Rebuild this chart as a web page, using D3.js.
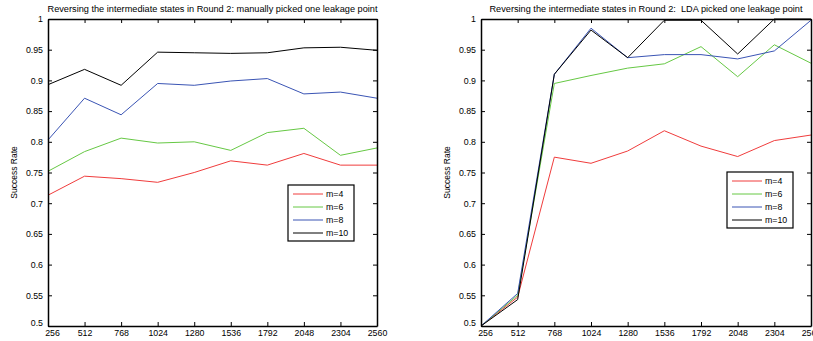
<!DOCTYPE html>
<html>
<head>
<meta charset="utf-8">
<script src="https://cdn.jsdelivr.net/npm/d3@7"></script>
<style>
  body { margin: 0; background: #fff; }
  svg { font-family: "Liberation Sans", Arial, sans-serif; }
  .axis path, .axis line { stroke: #000; }
</style>
</head>
<body>
<svg id="chart" width="813" height="341"></svg>
<script>
// sample sizes on x
const samples = [256, 512, 768, 1024, 1280, 1536, 1792, 2048, 2304, 2560]
const yTicks = [0.5, 0.55, 0.6, 0.65, 0.7, 0.75, 0.8, 0.85, 0.9, 0.95, 1]
const seriesNames = ['m=4', 'm=6', 'm=8', 'm=10']
const seriesColors = ['#f03c3c', '#66c844', '#3a54b4', '#000000']

// left: manually picked leakage point
const manualM4  = [0.713, 0.744, 0.740, 0.734, 0.750, 0.769, 0.762, 0.781, 0.762, 0.762]
const manualM6  = [0.752, 0.784, 0.806, 0.798, 0.800, 0.786, 0.815, 0.822, 0.778, 0.790]
const manualM8  = [0.803, 0.871, 0.844, 0.895, 0.892, 0.899, 0.903, 0.878, 0.881, 0.871]
const manualM10 = [0.893, 0.918, 0.892, 0.946, 0.945, 0.944, 0.945, 0.953, 0.954, 0.949]

// right: LDA picked leakage point
const ldaM4  = [0.500, 0.547, 0.775, 0.765, 0.785, 0.818, 0.793, 0.776, 0.802, 0.811]
const ldaM6  = [0.500, 0.550, 0.895, 0.908, 0.920, 0.927, 0.955, 0.906, 0.958, 0.928]
const ldaM8  = [0.500, 0.553, 0.910, 0.985, 0.937, 0.942, 0.942, 0.935, 0.948, 0.998]
const ldaM10 = [0.500, 0.543, 0.910, 0.982, 0.937, 0.998, 0.998, 0.943, 1.000, 1.000]

const svg = d3.select('#chart')

function drawPanel(opts) {
    const {left, right, top, bottom, title, series, legend, ylabX} = opts
    const x = d3.scaleLinear().domain([256, 2560]).range([left, right])
    const y = d3.scaleLinear().domain([0.5, 1]).range([bottom, top])
    const g = svg.append('g')

    g.append('text')
        .attr('x', (left + right) / 2).attr('y', 12)
        .attr('text-anchor', 'middle').attr('font-size', 9.2)
        .attr('xml:space', 'preserve')
        .text(title)

    // lines
    const line = d3.line().x((d, i) => x(samples[i])).y(d => y(d))
    series.forEach((s, i) => {
        g.append('path').datum(s)
            .attr('fill', 'none')
            .attr('stroke', seriesColors[i])
            .attr('stroke-width', 1)
            .attr('d', line)
    })

    // axes, matlab style ticks inside on all sides
    const xb = g.append('g').attr('class', 'axis')
        .attr('transform', 'translate(0,' + bottom + ')')
        .call(d3.axisBottom(x).tickValues(samples).tickSizeInner(-4).tickSizeOuter(0).tickPadding(4).tickFormat(d3.format('d')))
    xb.selectAll('text').attr('font-size', 8.8).attr('fill', '#000').attr('font-family', null)
    xb.select('text').attr('dx', 4)
    g.append('g').attr('class', 'axis')
        .attr('transform', 'translate(0,' + top + ')')
        .call(d3.axisTop(x).tickValues(samples).tickSizeInner(-4).tickSizeOuter(0).tickFormat(''))

    const yl = g.append('g').attr('class', 'axis')
        .attr('transform', 'translate(' + left + ',0)')
        .call(d3.axisLeft(y).tickValues(yTicks).tickSizeInner(-4).tickSizeOuter(0).tickPadding(5).tickFormat(d => d3.format('')(+d.toFixed(2))))
    yl.selectAll('text').attr('font-size', 8.8).attr('fill', '#000').attr('font-family', null)
    yl.select('text').attr('dy', '-0.05em')
    g.append('g').attr('class', 'axis')
        .attr('transform', 'translate(' + right + ',0)')
        .call(d3.axisRight(y).tickValues(yTicks).tickSizeInner(-4).tickSizeOuter(0).tickFormat(''))

    g.selectAll('.axis path').attr('stroke-width', 1.5)
    g.selectAll('.axis line').attr('stroke-width', 1)

    g.append('text')
        .attr('transform', 'translate(' + ylabX + ',' + ((top + bottom) / 2) + ') rotate(-90)')
        .attr('text-anchor', 'middle').attr('font-size', 8.5)
        .text('Success Rate')

    // legend
    const lg = g.append('g').attr('transform', 'translate(' + legend.x + ',' + legend.y + ')')
    lg.append('rect').attr('width', 66).attr('height', 56)
        .attr('fill', '#fff').attr('stroke', '#000').attr('stroke-width', 1.2)
    seriesNames.forEach((n, i) => {
        const yy = 9 + i * 13
        lg.append('line').attr('x1', 5).attr('x2', 35).attr('y1', yy).attr('y2', yy)
            .attr('stroke', seriesColors[i]).attr('stroke-width', 1)
        lg.append('text').attr('x', 38).attr('y', yy + 3)
            .attr('font-size', 8.8).text(n)
    })
}

drawPanel({
    left: 48, right: 377, top: 19, bottom: 326, ylabX: 17,
    title: 'Reversing the intermediate states in Round 2: manually picked one leakage point',
    series: [manualM4, manualM6, manualM8, manualM10],
    legend: {x: 288, y: 185}
})

drawPanel({
    left: 481, right: 811, top: 19, bottom: 326, ylabX: 450,
    title: 'Reversing the intermediate states in Round 2:  LDA picked one leakage point',
    series: [ldaM4, ldaM6, ldaM8, ldaM10],
    legend: {x: 727, y: 172}
})
</script>
</body>
</html>
